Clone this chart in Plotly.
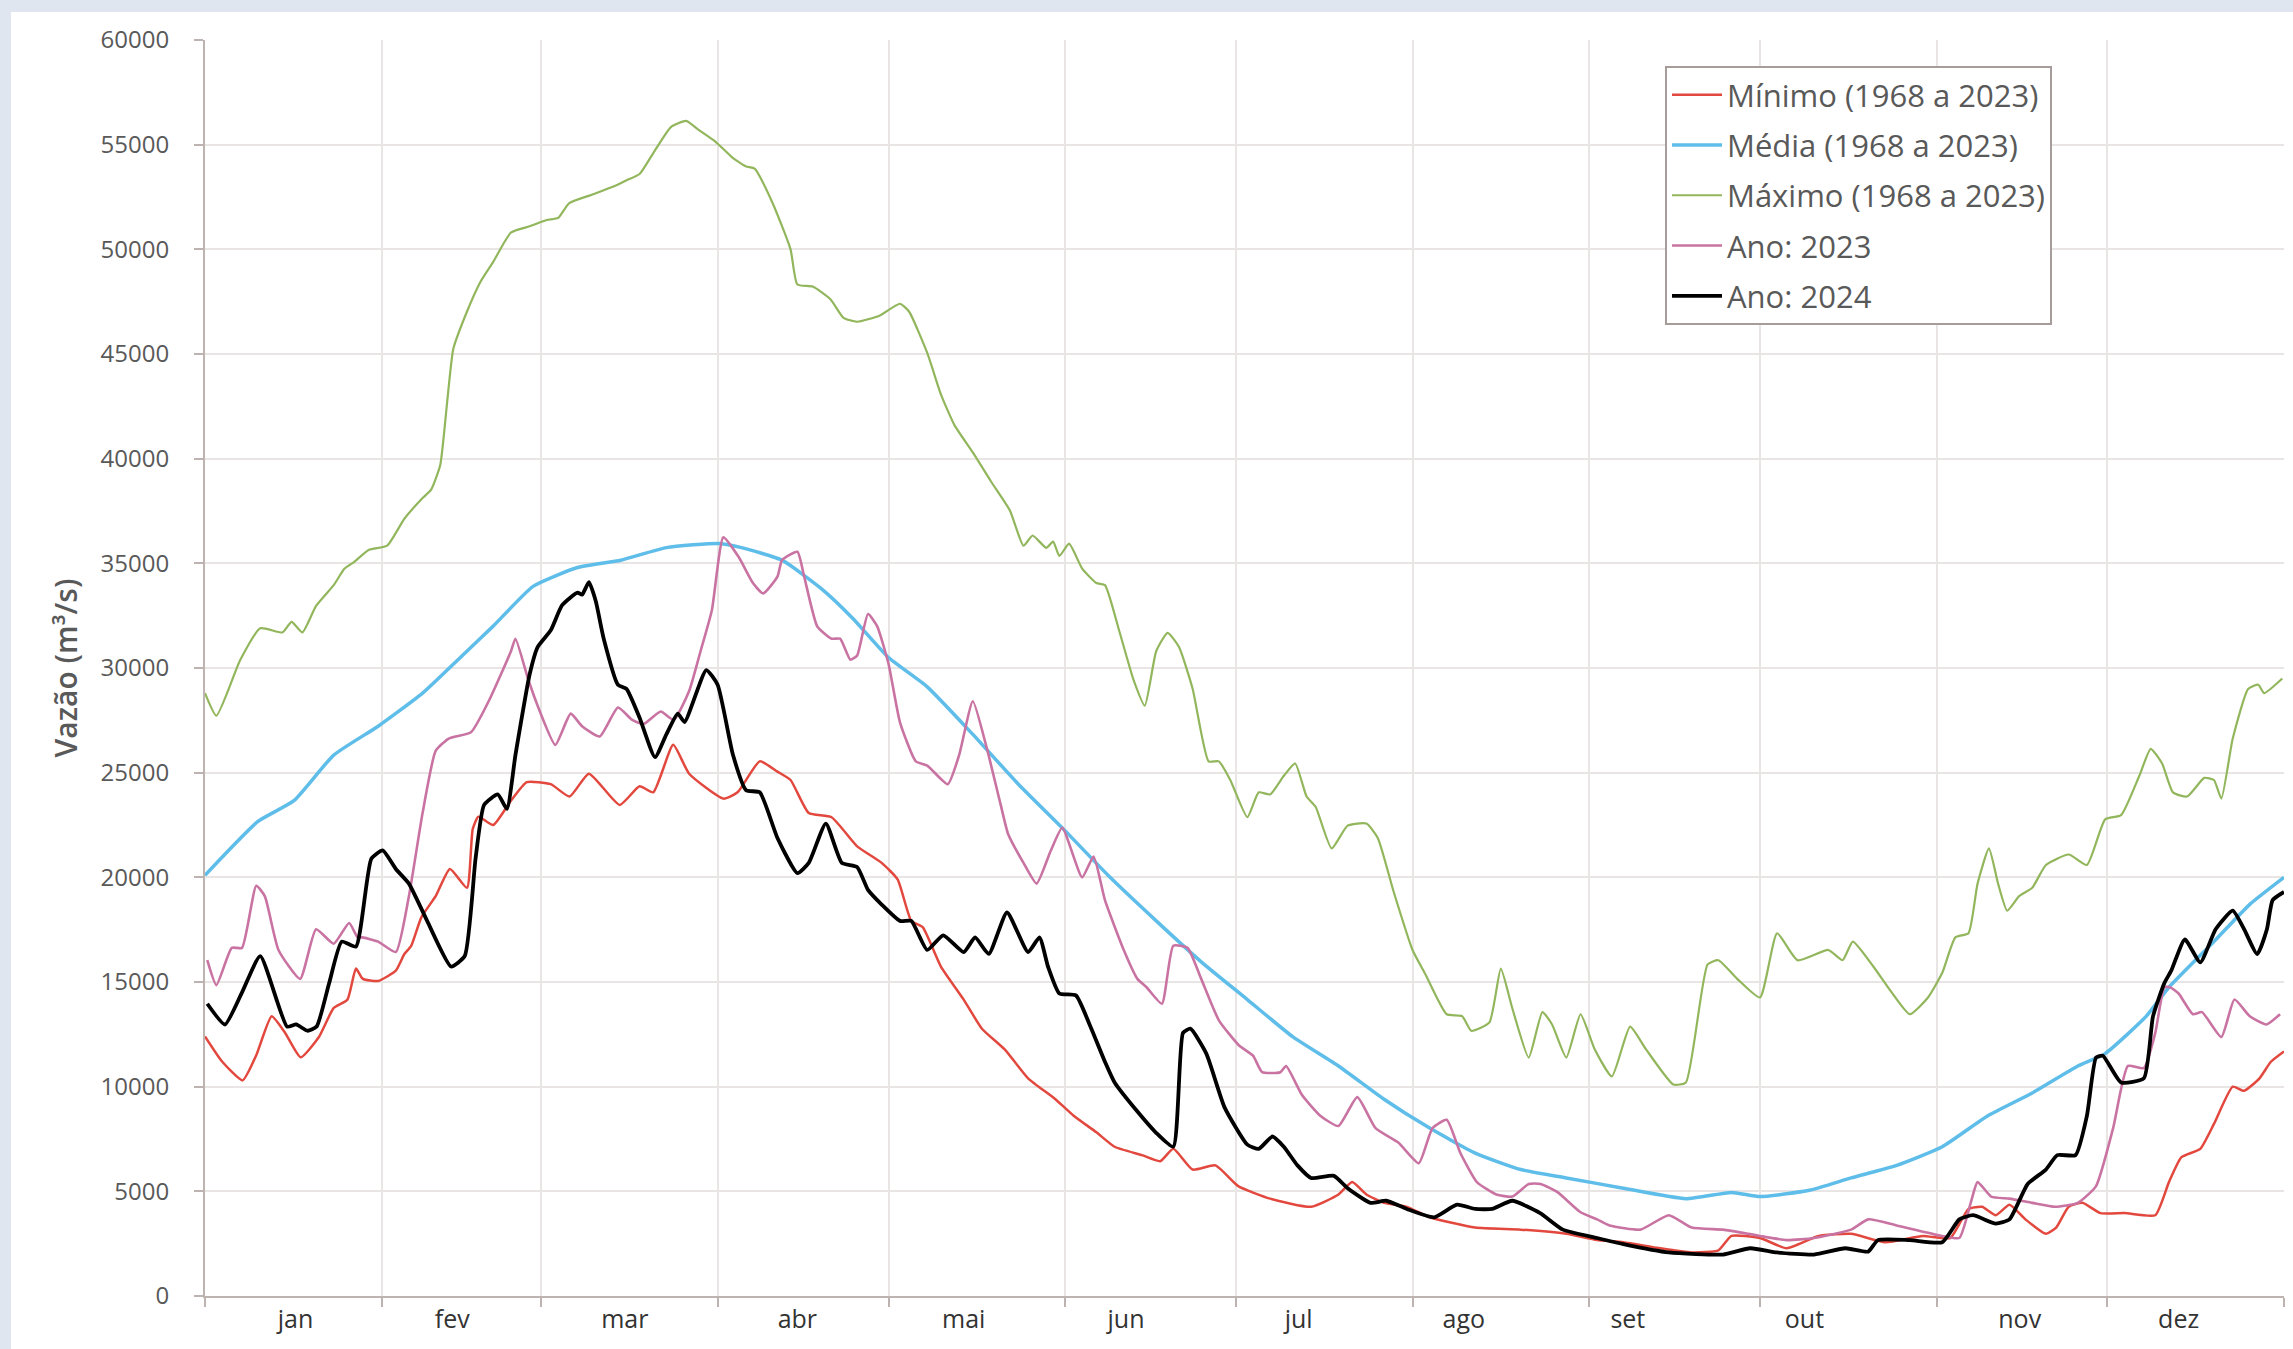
import plotly.graph_objects as go

# ---------------- data (day of year, m3/s) ----------------
months = ["jan", "fev", "mar", "abr", "mai", "jun", "jul", "ago", "set", "out", "nov", "dez"]
month_days = [31, 28, 31, 30, 31, 30, 31, 31, 30, 31, 30, 31]
# where the source chart prints each month name (day of year)
month_label_days = [15.9, 43.4, 73.7, 104.0, 133.2, 161.7, 192.0, 221.0, 249.8, 280.8, 318.6, 346.5]

min_days = [0, 3, 6.6, 9, 11.7, 14, 16.8, 20, 22.6, 25, 26.5, 27.7, 30.4, 33.5, 35, 36.2, 38, 40.5, 43, 46, 47, 48,
            50.6, 53.7, 56.5, 60.7, 64, 67.4, 72.8, 76.3, 78.7, 82.2, 85, 91, 93.5, 97.4, 100.5, 102.8, 106, 110,
            114.5, 118.8, 121.6, 124, 126, 129.2, 133.2, 136.4, 140.4, 144.5, 149.3, 152.5, 156.5, 159.7, 164.5,
            167.7, 170, 173.4, 177.4, 181.4, 187, 194.2, 199, 201.4, 203.9, 207, 211, 215, 223, 231, 239, 244.4,
            249, 255, 261, 265.7, 268, 273, 277.7, 283.3, 289, 295, 301.6, 306.4, 309.6, 312, 314.4, 316.8, 319.6,
            323.2, 325, 327.2, 329.6, 332.8, 337, 342.4, 344.8, 347, 350.3, 352.7, 356, 358, 360.7, 362.7, 365]
min_vals = [12400, 11200, 10300, 11500, 13365, 12600, 11400, 12375, 13760, 14150, 15640, 15150, 15050, 15540, 16335,
            16730, 18100, 19100, 20400, 19500, 22300, 22900, 22500, 23660, 24550, 24450, 23860, 24950, 23460, 24350,
            24060, 26330, 24950, 23760, 24060, 25540, 25050, 24650, 23070, 22870, 21480, 20690, 19900, 17920, 17620,
            15740, 14160, 12770, 11780, 10400, 9400, 8610, 7820, 7130, 6730, 6440, 7030, 6040, 6240, 5250, 4650, 4260,
            4850, 5440, 4850, 4450, 4260, 3760, 3270, 3170, 2970, 2670, 2570, 2300, 2080, 2180, 2870, 2770, 2280,
            2870, 2970, 2570, 2870, 2770, 4160, 4260, 3860, 4360, 3660, 2970, 3270, 4260, 4450, 3960, 3960, 3860,
            5440, 6630, 7030, 8220, 10000, 9800, 10400, 11190, 11680]

mean_days = [0, 9.3, 15.6, 22.6, 30.4, 38.2, 45.2, 50.6, 57.6, 65.4, 73, 81, 90.3, 94.2, 101.3, 108.3, 113.7, 120,
             126.8, 134.8, 142.8, 150.8, 158.9, 167, 175, 183, 191, 199, 207, 215, 223, 231, 239, 249, 260, 268, 273,
             281.7, 289, 297, 305, 313, 320.8, 328.8, 333.6, 340.8, 344.8, 352.7, 359, 365]
mean_vals = [20100, 22670, 23660, 25840, 27220, 28800, 30600, 32000, 33900, 34800, 35150, 35750, 35950, 35750, 35150,
             33770, 32380, 30500, 29100, 26830, 24450, 22280, 20000, 17920, 15940, 14160, 12380, 10990, 9400, 8020,
             6830, 6040, 5640, 5150, 4650, 4950, 4750, 5050, 5640, 6240, 7130, 8610, 9700, 10990, 11580, 13360, 14750,
             16930, 18710, 20000]

max_days = [0, 2, 6.2, 9.7, 13.6, 15.2, 17.1, 19.5, 22.6, 24.5, 26.1, 28.8, 32, 35, 38.2, 39.7, 41.3, 42.5, 43.6, 46,
            48.3, 50.6, 53.7, 57, 60, 62, 63.9, 67.8, 71.7, 74, 76.3, 78.7, 81.8, 84.5, 86.5, 89.6, 92.7, 95, 96.5,
            99.7, 102.8, 104, 106.7, 109.8, 112.1, 114.5, 118.4, 122, 123.6, 126.8, 129.2, 131.6, 134.8, 138, 141.3,
            143.7, 145.3, 147.7, 148.9, 150, 151.7, 154, 156.5, 158, 160.5, 163, 165, 167, 169, 171, 173.4, 176.2,
            178, 180, 183, 185, 187, 189.4, 191.4, 193.4, 195, 197.8, 200.6, 203.9, 205.9, 208.7, 212, 214.3, 218,
            220.7, 222.3, 225.5, 227.5, 229.5, 232.4, 234.8, 236.5, 239, 241.5, 244, 247, 250.2, 253, 257.8, 260,
            263.8, 265.7, 269, 273, 276, 279.6, 285, 287.5, 289.3, 292.9, 296, 299.3, 302.5, 305, 307.3, 309.6,
            311.2, 313.2, 314.8, 316.4, 318.5, 320.8, 323.2, 327.2, 330.4, 333.6, 336.4, 339.6, 341.6, 343.6, 345.5,
            348, 351, 352.7, 354, 356, 358.7, 360.5, 361.5, 364.7]
max_vals = [28800, 27720, 30390, 31900, 31700, 32200, 31700, 32970, 33960, 34750, 35050, 35650, 35850, 37130, 38120,
            38520, 39700, 42670, 45250, 47030, 48420, 49400, 50800, 51100, 51400, 51500, 52200, 52600, 53000, 53300,
            53600, 54600, 55840, 56140, 55740, 55150, 54360, 53960, 53860, 52180, 50000, 48320, 48220, 47620, 46730,
            46540, 46830, 47400, 47030, 45050, 43070, 41590, 40300, 38910, 37530, 35840, 36330, 35740, 36040, 35350,
            35940, 34750, 34060, 33960, 31780, 29450, 28200, 30800, 31680, 31000, 29000, 25540, 25540, 24650, 22870,
            24060, 23960, 24850, 25440, 23860, 23360, 21380, 22470, 22570, 21880, 19300, 16530, 15350, 13460, 13370,
            12670, 13070, 15640, 13760, 11390, 13560, 12970, 11390, 13460, 11780, 10490, 12870, 11780, 10100, 10200,
            15840, 16040, 15150, 14260, 17330, 16040, 16530, 16040, 16930, 15740, 14550, 13460, 14260, 15440, 17130,
            17330, 19700, 21380, 19700, 18410, 19100, 19500, 20590, 21090, 20590, 22770, 22970, 24850, 26140, 25440,
            24060, 23860, 24750, 24650, 23760, 26630, 29000, 29200, 28800, 29500]

y2023_days = [0.4, 2, 4.7, 6.5, 9, 10.5, 12.9, 16.7, 19.5, 22.6, 25.3, 26.8, 27.6, 30.4, 33.5, 35.8, 38.2, 40.5, 42.8,
              46.7, 49.8, 53.7, 54.5, 56.7, 58.4, 61.5, 64.2, 66.2, 69.3, 72.5, 75, 77, 80, 82.3, 85, 87, 89, 91,
              93.7, 96.2, 98, 100.5, 101.3, 104, 105.2, 107.5, 110, 111.5, 113.3, 114.5, 116.4, 118, 120, 122, 124.8,
              126.8, 130.4, 132.4, 134.8, 137.2, 139.7, 141, 143.7, 146, 148.5, 150.5, 154, 156, 158, 161.3, 163.7,
              165.3, 168, 170, 172.5, 174.9, 178, 181.5, 184, 185.6, 188.8, 189.8, 192.6, 195.8, 199, 202.3, 205.5,
              209.5, 213.1, 215.5, 218, 220.4, 223.3, 226.7, 229.5, 232.4, 234.5, 237.5, 241.5, 244.4, 246.6, 252,
              257, 261, 266.5, 271, 273, 277.7, 282.5, 289, 292, 297, 305, 308, 310, 311.2, 313.6, 316.8, 320.8,
              324.8, 328.8, 332, 335, 337.6, 340.4, 342.4, 344, 345, 346.5, 349, 350.6, 354, 356.3, 359, 361.9, 364.3]
y2023_vals = [16040, 14850, 16630, 16630, 19600, 19100, 16530, 15150, 17520, 16830, 17820, 17130, 17130, 16930, 16430,
              19100, 23070, 26040, 26630, 26930, 28410, 30790, 31400, 29500, 28200, 26330, 27820, 27220, 26730, 28110,
              27520, 27320, 27920, 27520, 28900, 30800, 32775, 36240, 35300, 34060, 33560, 34360, 35150, 35550, 34360,
              31980, 31400, 31400, 30400, 30600, 32580, 32000, 30200, 27420, 25540, 25340, 24450, 25840, 28410, 26230,
              23460, 22070, 20690, 19700, 21280, 22370, 20000, 20990, 18910, 16530, 15150, 14750, 13960, 16730, 16630,
              15150, 13170, 11980, 11480, 10690, 10690, 10990, 9600, 8610, 8120, 9500, 8020, 7330, 6340, 8020, 8420,
              6830, 5440, 4850, 4750, 5350, 5350, 4950, 4000, 3660, 3370, 3170, 3860, 3270, 3170, 2970, 2870, 2670,
              2770, 3170, 3660, 3370, 2870, 2770, 4450, 5440, 4750, 4650, 4450, 4260, 4450, 5250, 8020, 10990, 10890,
              12570, 14750, 14750, 14450, 13460, 13560, 12370, 14160, 13360, 12970, 13460]

y2024_days = [0.4, 3.5, 6.5, 9.7, 14.4, 16, 18, 19.6, 21.8, 24, 26.5, 29.2, 31.2, 33.5, 35.8, 39, 43.2, 45.6, 47.5, 49,
              51.4, 53, 54.5, 57, 58.4, 60.7, 62.7, 65.4, 66.2, 67.4, 68.6, 70, 72.5, 74, 76.3, 79, 81, 83, 84.2, 88,
              90, 92.7, 95, 97.4, 100.5, 104, 106, 109, 111.8, 114.5, 116.4, 118.8, 122, 124, 126.8, 129.6, 133.2,
              135.2, 137.6, 140.8, 144.5, 146.5, 148, 150, 152.9, 155.3, 158, 159.7, 163.7, 166.9, 170, 171.7, 173,
              175.8, 179, 183, 185, 187.4, 189.4, 191.8, 194.2, 198.2, 200.6, 204.6, 207.4, 211, 215.8, 219.8, 223,
              226, 229.5, 234.4, 238.4, 244.4, 249, 257, 266.5, 271.3, 276, 282.5, 288, 292, 293.7, 299.3, 305, 308,
              310.4, 314.4, 316.8, 320, 323.2, 325.2, 328.4, 330.4, 332, 333.2, 336.4, 340.4, 342, 344, 345.2, 347.6,
              350.3, 353, 356, 358, 360.3, 362, 363, 365]
y2024_vals = [13960, 12970, 14500, 16240, 12870, 12970, 12670, 12870, 14950, 16930, 16690, 20890, 21290, 20400, 19700,
              17920, 15740, 16240, 20890, 23460, 23960, 23270, 25840, 29700, 31000, 31800, 33000, 33600, 33500, 34100,
              33200, 31400, 29200, 29000, 27620, 25740, 26830, 27820, 27420, 29900, 29200, 25840, 24160, 24060, 21880,
              20200, 20690, 22570, 20690, 20490, 19400, 18700, 17920, 17920, 16530, 17230, 16430, 17130, 16340, 18320,
              16430, 17130, 15740, 14450, 14360, 12970, 11190, 10200, 8810, 7820, 7130, 12570, 12770, 11580, 9010,
              7230, 7030, 7620, 7130, 6240, 5640, 5740, 5150, 4450, 4550, 4160, 3760, 4360, 4160, 4160, 4550, 3960,
              3170, 2770, 2480, 2080, 1980, 2280, 2080, 1980, 2280, 2120, 2670, 2670, 2570, 3660, 3860, 3460, 3660,
              5350, 6040, 6730, 6730, 8610, 11390, 11480, 10200, 10400, 13360, 14950, 15540, 17030, 15940, 17520,
              18410, 17520, 16330, 17520, 18910, 19300]

y_ticks = [0, 5000, 10000, 15000, 20000, 25000, 30000, 35000, 40000, 45000, 50000, 55000, 60000]

# ---------------- derived axis positions ----------------
bounds = [0]
for d in month_days:
    bounds.append(bounds[-1] + d)

# ---------------- figure ----------------
W, H = 2293, 1349
L, R, T, B = 205, 9, 40, 53
pw, ph = W - L - R, H - T - B

series = [
    ("Mínimo (1968 a 2023)", min_days, min_vals, "#e2483e", 2.5),
    ("Média (1968 a 2023)", mean_days, mean_vals, "#5fbde9", 3.5),
    ("Máximo (1968 a 2023)", max_days, max_vals, "#92b65c", 2.2),
    ("Ano: 2023", y2023_days, y2023_vals, "#c973a2", 2.6),
    ("Ano: 2024", y2024_days, y2024_vals, "#000000", 3.8),
]

fig = go.Figure()
for i, (name, xs, ys, col, w) in enumerate(series):
    fig.add_trace(go.Scatter(
        x=xs, y=ys, mode="lines", name=name,
        line=dict(color=col, width=w, shape="spline", smoothing=0.5),
        legendgroup=f"g{i}",
    ))

axis_col = "#bdb3b1"
grid_col = "#e9e5e4"
font_fam = "Open Sans, DejaVu Sans, sans-serif"

fig.update_layout(
    width=W, height=H,
    margin=dict(l=L, r=R, t=T, b=B, pad=0),
    paper_bgcolor="#e0e6f0",
    plot_bgcolor="rgba(0,0,0,0)",
    font=dict(family=font_fam, color="#595959"),
    showlegend=True,
    legend=dict(
        x=(1665 - L) / pw, y=(H - B - 66) / ph, xanchor="left", yanchor="top",
        bgcolor="white", bordercolor="#a69d9b", borderwidth=2,
        font=dict(size=31, color="#595959", family=font_fam),
        itemwidth=50, traceorder="grouped", tracegroupgap=7,
    ),
    xaxis=dict(
        range=[0, 365], tickvals=month_label_days, ticktext=months, ticks="",
        showgrid=False, zeroline=False, showline=True, linecolor=axis_col, linewidth=2,
        tickfont=dict(size=25, color="#333333", family=font_fam),
        minor=dict(tickvals=bounds, ticks="outside", ticklen=9, tickcolor=axis_col, tickwidth=2,
                   showgrid=True, gridcolor=grid_col, gridwidth=2),
        fixedrange=True,
    ),
    yaxis=dict(
        range=[0, 60000], tickvals=y_ticks, tickformat="d",
        ticks="outside", ticklen=9, tickcolor=axis_col, tickwidth=2,
        showgrid=True, gridcolor=grid_col, gridwidth=2, zeroline=False,
        showline=True, linecolor=axis_col, linewidth=2,
        tickfont=dict(size=24, color="#595959", family=font_fam),
        ticklabelstandoff=20,
        title=dict(text="Vazão (m³/s)",
                   font=dict(size=30, color="#595959", family=font_fam, weight=600), standoff=14),
        fixedrange=True,
    ),
    shapes=[dict(
        type="rect", xref="paper", yref="paper", layer="below",
        x0=(11 - L) / pw, x1=(W + 5 - L) / pw,
        y0=(H - B - (H + 5)) / ph, y1=(H - B - 12) / ph,
        fillcolor="white", line=dict(width=0),
    )],
)

fig.write_html(
    "out.html",
    config={"displayModeBar": False},
    post_script="document.body.style.margin='0';document.body.style.overflow='hidden';",
)
